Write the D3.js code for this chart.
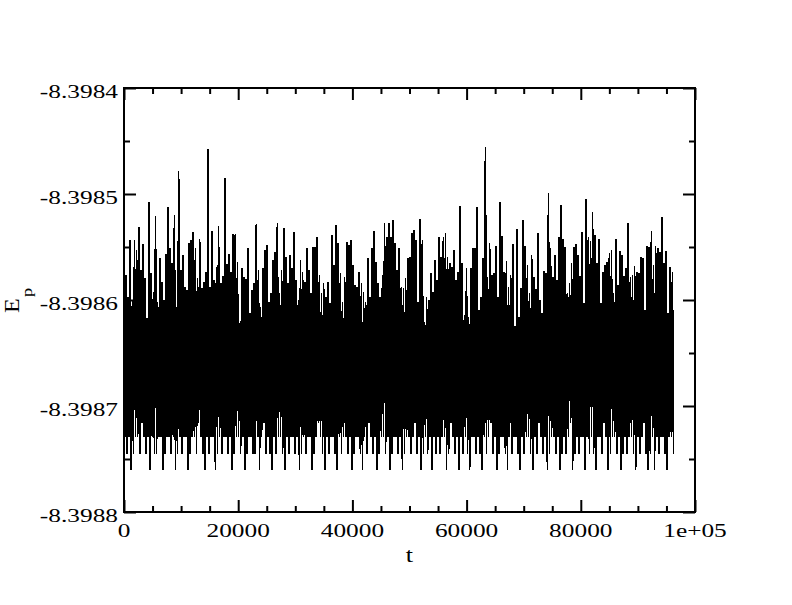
<!DOCTYPE html>
<html><head><meta charset="utf-8">
<script src="https://cdn.jsdelivr.net/npm/d3@7"></script>
<style>body{margin:0;background:#fff}svg{display:block}</style>
</head><body><svg id="c" width="792" height="605"></svg>
<script>
// ---- data ----
const sampleInterval = 184; // t between successive samples
const peakValues = [
-8.398559,-8.398576,-8.398597,-8.398543,-8.398600,-8.398543,-8.398553,-8.398531,-8.398572,-8.398547,
-8.398579,-8.398617,-8.398508,-8.398575,-8.398592,-8.398521,-8.398602,-8.398560,-8.398583,-8.398600,
-8.398557,-8.398512,-8.398551,-8.398565,-8.398520,-8.398607,-8.398478,-8.398572,-8.398558,-8.398588,
-8.398591,-8.398546,-8.398543,-8.398536,-8.398551,-8.398579,-8.398542,-8.398589,-8.398583,-8.398574,
-8.398458,-8.398588,-8.398535,-8.398581,-8.398569,-8.398530,-8.398584,-8.398577,-8.398485,-8.398566,
-8.398557,-8.398574,-8.398538,-8.398538,-8.398564,-8.398622,-8.398570,-8.398578,-8.398580,-8.398551,
-8.398612,-8.398591,-8.398584,-8.398528,-8.398572,-8.398607,-8.398570,-8.398553,-8.398548,-8.398602,
-8.398593,-8.398562,-8.398555,-8.398527,-8.398593,-8.398572,-8.398532,-8.398559,-8.398584,-8.398558,
-8.398570,-8.398536,-8.398581,-8.398600,-8.398562,-8.398574,-8.398583,-8.398551,
-8.398572,-8.398593,-8.398550,-8.398550,-8.398541,-8.398576,-8.398593,-8.398584,-8.398597,-8.398583,
-8.398603,-8.398539,-8.398567,-8.398529,-8.398546,-8.398575,-8.398602,-8.398578,-8.398545,-8.398548,
-8.398543,-8.398567,-8.398586,-8.398588,-8.398574,-8.398584,-8.398592,-8.398602,-8.398560,-8.398597,
-8.398551,-8.398535,-8.398564,-8.398584,-8.398597,-8.398576,-8.398527,-8.398541,-8.398527,-8.398541,
-8.398525,-8.398546,-8.398572,-8.398551,-8.398588,-8.398589,-8.398579,-8.398560,-8.398559,-8.398537,
-8.398534,-8.398543,-8.398602,-8.398524,-8.398543,-8.398621,-8.398597,-8.398600,-8.398575,-8.398592,
-8.398562,-8.398581,-8.398541,-8.398559,-8.398541,-8.398537,-8.398559,-8.398565,-8.398569,-8.398553,
-8.398581,-8.398574,-8.398511,-8.398565,-8.398614,-8.398570,-8.398616,-8.398570,-8.398551,-8.398551,
-8.398512,-8.398609,-8.398597,-8.398560,-8.398456,-8.398578,-8.398546,-8.398576,
-8.398575,-8.398549,-8.398597,-8.398508,-8.398540,-8.398574,-8.398563,-8.398588,-8.398576,-8.398547,
-8.398625,-8.398533,-8.398616,-8.398589,-8.398525,-8.398549,-8.398567,-8.398593,-8.398558,-8.398578,
-8.398590,-8.398537,-8.398600,-8.398612,-8.398573,-8.398575,-8.398499,-8.398551,-8.398578,-8.398558,
-8.398581,-8.398541,-8.398510,-8.398542,-8.398550,-8.398593,-8.398584,-8.398565,-8.398550,-8.398547,
-8.398558,-8.398577,-8.398536,-8.398603,-8.398505,-8.398541,-8.398544,-8.398517,-8.398539,-8.398565,
-8.398542,-8.398603,-8.398574,-8.398567,-8.398564,-8.398556,-8.398553,-8.398593,-8.398542,-8.398586,
-8.398554,-8.398558,-8.398577,-8.398570,-8.398527,-8.398578,-8.398576,-8.398568,-8.398574,-8.398575,
-8.398559,-8.398560,-8.398609,-8.398549,-8.398550,-8.398535,-8.398567,-8.398549,-8.398551,-8.398555,
-8.398522,-8.398565,-8.398554,-8.398612,-8.398569,-8.398574
];
const troughValues = [
-8.398729,-8.398745,-8.398729,-8.39876,-8.398745,-8.398729,-8.398729,-8.398745,-8.398716,-8.398729,
-8.398745,-8.398729,-8.39876,-8.398729,-8.398745,-8.398745,-8.398729,-8.398729,-8.39876,-8.398745,
-8.398729,-8.398729,-8.398745,-8.398729,-8.39876,-8.398745,-8.398729,-8.398745,-8.398729,-8.398729,
-8.39876,-8.398745,-8.398729,-8.398729,-8.398745,-8.398716,-8.398729,-8.398745,-8.39876,-8.398729,
-8.398745,-8.398729,-8.398729,-8.39876,-8.398745,-8.398729,-8.398745,-8.398729,-8.398729,-8.398745,
-8.398729,-8.39876,-8.398745,-8.398729,-8.398729,-8.398745,-8.398729,-8.39876,-8.398745,-8.398729,
-8.398729,-8.398745,-8.398745,-8.398729,-8.39876,-8.398729,-8.398716,-8.398745,-8.398729,-8.398745,
-8.39876,-8.398729,-8.398745,-8.398729,-8.398729,-8.398745,-8.39876,-8.398729,-8.398745,-8.398729,
-8.398729,-8.398745,-8.398729,-8.39876,-8.398745,-8.398729,-8.398745,-8.398729,-8.398729,-8.39876,
-8.398745,-8.398729,-8.398716,-8.398729,-8.398745,-8.39876,-8.398729,-8.398745,-8.398729,-8.398729,
-8.398745,-8.39876,-8.398729,-8.398745,-8.398729,-8.398729,-8.398745,-8.398729,-8.39876,-8.398745,
-8.398729,-8.398729,-8.398745,-8.39876,-8.398729,-8.398745,-8.398716,-8.398729,-8.398745,-8.398729,
-8.39876,-8.398745,-8.398729,-8.398729,-8.398745,-8.398729,-8.39876,-8.398745,-8.398729,-8.398729,
-8.398745,-8.398729,-8.39876,-8.398745,-8.398729,-8.398729,-8.398745,-8.398729,-8.398716,-8.398745,
-8.398729,-8.39876,-8.398745,-8.398729,-8.398745,-8.398729,-8.39876,-8.398729,-8.398745,-8.398729,
-8.398745,-8.398729,-8.398729,-8.39876,-8.398745,-8.398716,-8.398729,-8.398745,-8.398729,-8.39876,
-8.398729,-8.398745,-8.398729,-8.398745,-8.39876,-8.398729,-8.398729,-8.398745,-8.398729,-8.398745,
-8.39876,-8.398729,-8.398745,-8.398729,-8.398716,-8.398745,-8.398729,-8.39876,-8.398745,-8.398729,
-8.398729,-8.398745,-8.39876,-8.398729,-8.398745,-8.398729,-8.398729,-8.398745,-8.39876,-8.398729,
-8.398745,-8.398729,-8.398729,-8.398745,-8.39876,-8.398729,-8.398745,-8.398716,-8.398729,-8.398745,
-8.398729,-8.39876,-8.398745,-8.398729,-8.398729,-8.398745,-8.398729,-8.39876,-8.398745,-8.398729,
-8.398745,-8.398729,-8.398716,-8.39876,-8.398745,-8.398729,-8.398745,-8.398729,-8.398729,-8.39876,
-8.398729,-8.398745,-8.398729,-8.398745,-8.39876,-8.398729,-8.398729,-8.398745,-8.398716,-8.398729,
-8.39876,-8.398745,-8.398729,-8.398729,-8.398745,-8.398729,-8.39876,-8.398745,-8.398729,-8.398745,
-8.398729,-8.398729,-8.398745,-8.39876,-8.398729,-8.398745,-8.398729,-8.398716,-8.398745,-8.39876,
-8.398745,-8.398729,-8.39876,-8.398729,-8.398745,-8.398729,-8.398729,-8.398745,-8.39876,-8.398729,
-8.398729,-8.398745
];
const xMajorTicks = [0, 20000, 40000, 60000, 80000, 100000];
const xTickLabels = ["0", "20000", "40000", "60000", "80000", "1e+05"];
const xMinorTicks = [5000,10000,15000,25000,30000,35000,45000,50000,55000,65000,70000,75000,85000,90000,95000];
const yMajorTicks = [-8.3988, -8.3987, -8.3986, -8.3985, -8.3984];
const yTickLabels = ["-8.3988", "-8.3987", "-8.3986", "-8.3985", "-8.3984"];
const yMinorTicks = [-8.39875, -8.39865, -8.39855, -8.39845];
const xTitle = "t";

// ---- drawing ----
const svg = d3.select("#c");
const FONT = "'Liberation Serif','Times New Roman',serif";
const x = d3.scaleLinear().domain([0, 100000]).range([124, 695]);
const y = d3.scaleLinear().domain([-8.3988, -8.3984]).range([512, 88]);

const n = Math.min(peakValues.length, troughValues.length);
const series = [];
for (let i = 0; i < n; i++) {
  series.push({t: 2 * i * sampleInterval, v: peakValues[i]});
  series.push({t: (2 * i + 1) * sampleInterval, v: troughValues[i]});
}
svg.append("path").datum(series)
  .attr("d", d3.line().x(d => x(d.t)).y(d => y(d.v)))
  .attr("fill", "none").attr("stroke", "#000").attr("stroke-width", 1.7)
  .attr("stroke-linejoin", "bevel").attr("shape-rendering", "crispEdges");

function tickAxis(gen, tr, vals, size) {
  const g = svg.append("g").attr("transform", tr)
    .call(gen.tickValues(vals).tickSize(size).tickFormat(""));
  g.select(".domain").remove();
  g.selectAll("line").attr("stroke", "#000").attr("stroke-width", 2);
}
const [x0, x1] = x.range(), [y0, y1] = y.range();
tickAxis(d3.axisBottom(x), `translate(0,${y0})`, xMajorTicks, -12);
tickAxis(d3.axisBottom(x), `translate(0,${y0})`, xMinorTicks, -6);
tickAxis(d3.axisTop(x), `translate(0,${y1})`, xMajorTicks, -12);
tickAxis(d3.axisTop(x), `translate(0,${y1})`, xMinorTicks, -6);
tickAxis(d3.axisLeft(y), `translate(${x0},0)`, yMajorTicks, -12);
tickAxis(d3.axisLeft(y), `translate(${x0},0)`, yMinorTicks, -6);
tickAxis(d3.axisRight(y), `translate(${x1},0)`, yMajorTicks, -12);
tickAxis(d3.axisRight(y), `translate(${x1},0)`, yMinorTicks, -6);

svg.append("rect").attr("x", x0).attr("y", y1).attr("width", x1 - x0).attr("height", y0 - y1)
  .attr("fill", "none").attr("stroke", "#000").attr("stroke-width", 2);

function stretch(sel, k) {
  sel.each(function () {
    const w = this.getComputedTextLength();
    this.setAttribute("textLength", w * k);
    this.setAttribute("lengthAdjust", "spacingAndGlyphs");
  });
}

stretch(svg.append("g").selectAll("text").data(xMajorTicks).join("text")
  .attr("x", d => x(d)).attr("y", y0 + 25).attr("text-anchor", "middle")
  .attr("font-family", FONT).attr("font-size", 19.5)
  .text((d, i) => xTickLabels[i]), 1.3);

stretch(svg.append("g").selectAll("text").data(yMajorTicks).join("text")
  .attr("x", x0 - 6).attr("y", d => y(d) + 10).attr("text-anchor", "end")
  .attr("font-family", FONT).attr("font-size", 19.5)
  .text((d, i) => yTickLabels[i]), 1.3);

stretch(svg.append("text").attr("x", (x0 + x1) / 2).attr("y", y0 + 50)
  .attr("text-anchor", "middle").attr("font-family", FONT).attr("font-size", 20).text(xTitle), 1.3);

const yl = svg.append("g").attr("transform", "translate(19,313) rotate(-90)");
stretch(yl.append("text").attr("x", 0).attr("y", 0).attr("font-family", FONT).attr("font-size", 20).text("E"), 1.2);
stretch(yl.append("text").attr("x", 16).attr("y", 13).attr("font-family", FONT).attr("font-size", 14).text("p"), 1.3);
</script></body></html>
